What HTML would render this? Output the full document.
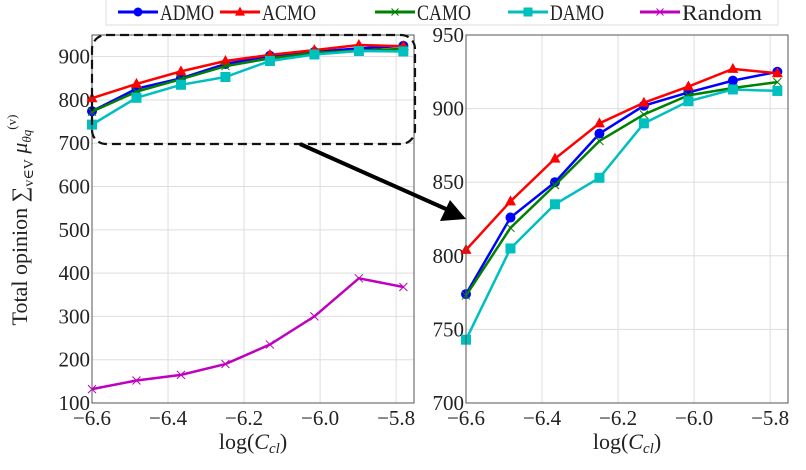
<!DOCTYPE html>
<html><head><meta charset="utf-8"><style>
body{margin:0;background:#fff}
svg, svg text{font-family:"Liberation Serif","DejaVu Serif",serif !important;fill:#222}
</style></head><body>
<svg id="c" width="806" height="465" viewBox="0 0 806 465" xmlns="http://www.w3.org/2000/svg" font-family="Liberation Serif, serif">
<g id="legend">
<rect x="106" y="-2" width="672" height="27" fill="#fff" stroke="#ddd"/>
</g>
<g id="left"></g>
<g id="right"></g>
<rect x="92" y="35" width="323" height="109" rx="14" fill="none" stroke="#111" stroke-width="2.2" stroke-dasharray="9,5"/>
<line x1="300" y1="144" x2="446" y2="209" stroke="#000" stroke-width="4"/>
<polygon points="466,219 440,221 450,200" fill="#000"/>
<text x="27" y="220" font-size="22" text-anchor="middle" font-family="Liberation Serif, serif" transform="rotate(-90 27 220)">Total opinion ∑<tspan font-size="14" dy="6">v∈V</tspan><tspan dy="-6" font-style="italic"> μ</tspan><tspan font-size="13" dy="4" font-style="italic">θq</tspan><tspan font-size="13" dy="-15">(v)</tspan></text>
</svg>
<script>
const xValues=[-6.6,-6.483,-6.366,-6.249,-6.132,-6.015,-5.898,-5.781];
const admo=[774,826,850,883,902,911,919,925];
const acmo=[804,837,866,890,904,915,927,924];
const camo=[773,819,848,878,896,909,914,918];
const damo=[743,805,835,853,890,905,913,912];
const randomVals=[132,152,165,190,235,300,388,368];
const xTicks=[-6.6,-6.4,-6.2,-6.0,-5.8];
const leftYTicks=[100,200,300,400,500,600,700,800,900];
const rightYTicks=[700,750,800,850,900,950];
const seriesNames=["ADMO","ACMO","CAMO","DAMO","Random"];
const NS="http://www.w3.org/2000/svg";
const FF="Liberation Serif, serif";
const series=[
 {name:"ADMO",data:admo,color:"#0000ff",marker:"circle"},
 {name:"ACMO",data:acmo,color:"#ff0000",marker:"tri"},
 {name:"CAMO",data:camo,color:"#008000",marker:"x"},
 {name:"DAMO",data:damo,color:"#00bfbf",marker:"square"},
 {name:"Random",data:randomVals,color:"#bf00bf",marker:"x"}];
function mk(tag,attrs,parent){const e=document.createElementNS(NS,tag);for(const k in attrs)e.setAttribute(k,attrs[k]);parent.appendChild(e);return e;}
function marker(g,type,x,y,color,s){
 let e;
 if(type==="circle")e=mk("circle",{cx:x,cy:y,r:s},g);
 else if(type==="square")e=mk("rect",{x:x-s,y:y-s,width:2*s,height:2*s},g);
 else if(type==="tri")e=mk("polygon",{points:`${x},${y-s*1.2} ${x-s*1.1},${y+s*0.8} ${x+s*1.1},${y+s*0.8}`},g);
 else {e=mk("path",{d:`M${x-s},${y-s}L${x+s},${y+s}M${x-s},${y+s}L${x+s},${y-s}`,stroke:color,"stroke-width":1,fill:"none"},g);}
 if(type!=="x")e.setAttribute("fill",color);
 
 
}
function panel(g,L,T,W,H,ymin,ymax,yticks,list,pfx){
 const xmin=-6.6,xmax=-5.753;
 const sx=v=>L+(v-xmin)/(xmax-xmin)*W, sy=v=>T+H-(v-ymin)/(ymax-ymin)*H;
 mk("rect",{x:L,y:T,width:W,height:H,fill:"#fff"},g);
 xTicks.forEach(t=>{const x=sx(t);
  const gl=mk("line",{x1:x,x2:x,y1:T,y2:T+H,stroke:"#ddd","stroke-width":1},g);
  
  
  const tx=mk("text",{x:x,y:T+H+22,"font-size":21,"text-anchor":"middle","font-family":FF},g);tx.textContent=(t<0?"−":"")+Math.abs(t).toFixed(1);
  
  });
 yticks.forEach(t=>{const y=sy(t);
  const gl=mk("line",{x1:L,x2:L+W,y1:y,y2:y,stroke:"#ddd","stroke-width":1},g);
  
  
  const tx=mk("text",{x:L-2,y:y+7,"font-size":21,"text-anchor":"end","font-family":FF},g);tx.textContent=t;
  
  });
 const cp=mk("clipPath",{id:pfx+"clip"},g);mk("rect",{x:L-8,y:T-8,width:W+16,height:H+16},cp);
 const dg=mk("g",{"clip-path":`url(#${pfx}clip)`},g);
 list.forEach(s=>{
  const sg=mk("g",{},dg);
  
  
  const pts=s.data.map((v,i)=>sx(xValues[i])+","+sy(v)).join(" ");
  const pl=mk("polyline",{points:pts,fill:"none",stroke:s.color,"stroke-width":2.5},sg);
  
  
  s.data.forEach((v,i)=>marker(sg,s.marker,sx(xValues[i]),sy(v),s.color,s.marker==="x"?4:5));
 });
 const fr=mk("rect",{x:L,y:T,width:W,height:H,fill:"none",stroke:"#555","stroke-width":1},g);
 
 
 const xl=mk("text",{x:L+W/2,y:T+H+46,"font-size":22,"text-anchor":"middle","font-family":FF},g);
 xl.innerHTML='log(<tspan font-style="italic">C</tspan><tspan font-style="italic" font-size="15" dy="4">cl</tspan><tspan dy="-4">)</tspan>';
 
 
}
panel(document.getElementById("left"),92,35,322,368,100,950,leftYTicks,series,"l");
panel(document.getElementById("right"),466,35,322,368,700,950,rightYTicks,series.slice(0,4),"r");
const lg=document.getElementById("legend");
const lx=[118,220,375,508,640];
const lw=[54,54,54,54,80];
series.forEach((s,i)=>{
 const e=mk("g",{},lg);
 
 
 mk("line",{x1:lx[i],x2:lx[i]+40,y1:12,y2:12,stroke:s.color,"stroke-width":3},e);
 marker(e,s.marker,lx[i]+20,12,s.color,s.marker==="x"?3.5:4.5);
 const t=mk("text",{x:lx[i]+42,y:20,"font-size":22,"font-family":FF,textLength:lw[i],lengthAdjust:"spacingAndGlyphs"},e);t.textContent=seriesNames[i];
});
</script>
</body></html>
